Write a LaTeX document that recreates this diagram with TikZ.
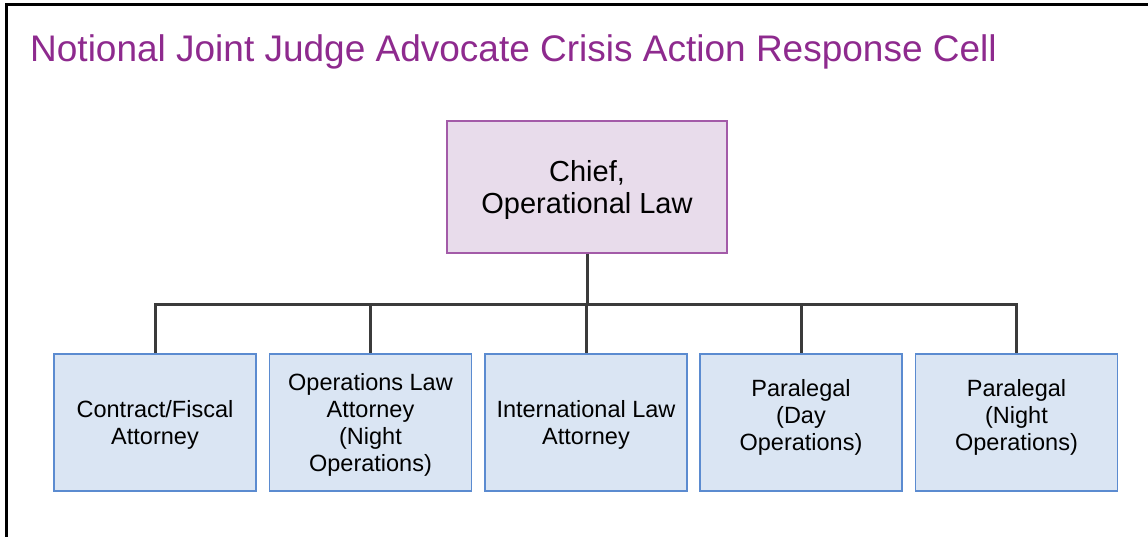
\documentclass[tikz,border=0pt]{standalone}
\usepackage{fontspec}
\setmainfont{Liberation Sans}
\definecolor{titlepurple}{HTML}{8E2A8E}
\definecolor{chieffill}{HTML}{E8DCEB}
\definecolor{chiefdraw}{HTML}{A35BA8}
\definecolor{boxfill}{HTML}{DAE5F3}
\definecolor{boxdraw}{HTML}{5B8BD0}
\definecolor{linkgray}{HTML}{3B3B3B}
\newcommand\celltext[2]{\raisebox{#1}[\height][\depth]{\begin{tabular}{@{}c@{}}#2\end{tabular}}}
\tikzset{
  chiefbox/.style={draw=chiefdraw, fill=chieffill, line width=1.5pt, minimum width=280pt, minimum height=132pt, align=center, inner sep=0pt, font=\fontsize{29}{32.6}\selectfont},
  staffbox/.style={draw=boxdraw, fill=boxfill, line width=1.5pt, minimum width=202pt, minimum height=137pt, align=center, inner sep=0pt, font=\fontsize{23.5}{27}\selectfont},
  link/.style={draw=linkgray, line width=3pt},
}
\begin{document}
\begin{tikzpicture}[x=1pt,y=-1pt]
\useasboundingbox (0,0) rectangle (1148,537);
\fill[white] (0,0) rectangle (1148,537);
\draw[line width=3pt,black] (6,537) -- (6,4.5) -- (1148,4.5);
\node[anchor=base west, text=titlepurple, font=\fontsize{37}{42}\selectfont, inner sep=0pt] (title) at (30,62) {Notional Joint Judge Advocate Crisis Action Response Cell};
\node[chiefbox] (chief) at (587,187) {\celltext{-3.9pt}{Chief,\\Operational Law}};
\node[staffbox] (b1) at (155,422.5) {\celltext{-3.1pt}{Contract/Fiscal\\Attorney}};
\node[staffbox] (b2) at (370.5,422.5) {\celltext{-2.6pt}{Operations Law\\Attorney\\(Night\\Operations)}};
\node[staffbox] (b3) at (586,422.5) {\celltext{-3.1pt}{International Law\\Attorney}};
\node[staffbox] (b4) at (801,422.5) {\celltext{4.9pt}{Paralegal\\(Day\\Operations)}};
\node[staffbox] (b5) at (1016.5,422.5) {\celltext{4.9pt}{Paralegal\\(Night\\Operations)}};
\coordinate (bus) at (587,304);
\draw[link] (chief.south) -- (bus);
\draw[link] (bus) -| (b1.north);
\draw[link] (bus) -| (b2.north);
\draw[link] (bus) -| (b3.north);
\draw[link] (bus) -| (b4.north);
\draw[link] (bus) -| (b5.north);
\end{tikzpicture}
\end{document}
